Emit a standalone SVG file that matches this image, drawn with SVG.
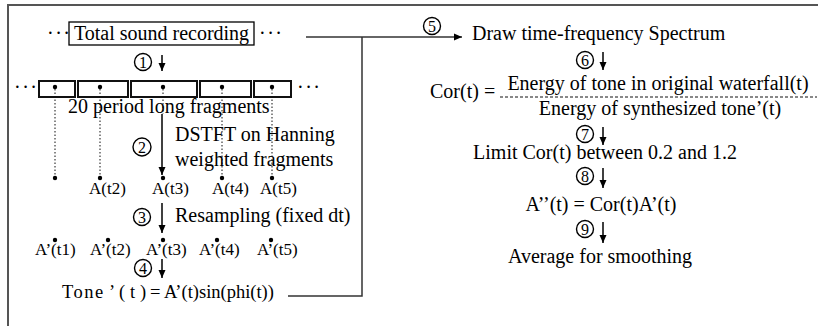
<svg xmlns="http://www.w3.org/2000/svg" width="818" height="326" viewBox="0 0 818 326">
<defs>
<marker id="ah" markerUnits="userSpaceOnUse" markerWidth="8" markerHeight="8" refX="8" refY="4" orient="auto">
<path d="M0,0.5 L8,4 L0,7.5 z" fill="#000"/>
</marker>
<style>
text{font-family:"Liberation Serif","Times New Roman",serif;fill:#000;}
.t20{font-size:20px;}
.t17{font-size:17px;}
.dots{font-size:20px;letter-spacing:1.5px;}
.num{font-size:16px;text-anchor:middle;}
.circ{fill:none;stroke:#000;stroke-width:1.4;}
.frag{fill:#fff;stroke:#111;stroke-width:2;}
.dot{fill:#000;}
.dotted{stroke:#111;stroke-width:1;stroke-dasharray:1.5,2;fill:none;}
.arr{stroke:#000;stroke-width:1.5;fill:none;marker-end:url(#ah);}
.conn{stroke:#333;stroke-width:1.5;fill:none;}
.frame{stroke:#555;stroke-width:2;fill:none;}
.mid{text-anchor:middle;}
</style>
</defs>
<rect width="818" height="326" fill="#fff"/>
<path class="frame" d="M8,326 V5 H818"/>

<g id="recording">
<text class="dots" x="47" y="40">···</text>
<rect x="69" y="22" width="185" height="23" fill="none" stroke="#000" stroke-width="1.3"/>
<text class="t20 mid" x="161.5" y="40">Total sound recording</text>
<text class="dots" x="259" y="40">···</text>
</g>

<g id="step1">
<circle class="circ" cx="143" cy="62" r="8.5"/>
<text class="num" x="143" y="67.5">1</text>
</g>

<g id="fragments">
<text class="dots" x="14" y="94">···</text>
<rect class="frag" x="39" y="81" width="36" height="16"/>
<rect class="frag" x="78" y="81" width="50" height="16"/>
<rect class="frag" x="131" y="81" width="66" height="16"/>
<rect class="frag" x="200" y="81" width="51" height="16"/>
<rect class="frag" x="254" y="81" width="37" height="16"/>
<text class="dots" x="297" y="94">···</text>
<circle class="dot" cx="55" cy="87" r="2.2"/>
<circle class="dot" cx="100" cy="87" r="2.2"/>
<circle class="dot" cx="163" cy="87" r="2.2"/>
<circle class="dot" cx="222" cy="87" r="2.2"/>
<circle class="dot" cx="272" cy="87" r="2.2"/>
<text class="t20" x="68" y="113">20 period long fragments</text>
</g>

<g id="step2">
<circle class="circ" cx="142" cy="147" r="9"/>
<text class="num" x="142" y="152.5">2</text>
<text class="t20" x="175" y="141">DSTFT on Hanning</text>
<text class="t20" x="175" y="166">weighted fragments</text>
</g>

<g id="amplitudes">
<circle class="dot" cx="55" cy="178" r="2.2"/>
<circle class="dot" cx="100" cy="178" r="2.2"/>
<circle class="dot" cx="163" cy="178" r="2.2"/>
<circle class="dot" cx="222" cy="178" r="2.2"/>
<circle class="dot" cx="272" cy="178" r="2.2"/>
<text class="t17" x="89" y="194">A(t2)</text>
<text class="t17" x="152" y="194">A(t3)</text>
<text class="t17" x="212" y="194">A(t4)</text>
<text class="t17" x="260" y="194">A(t5)</text>
</g>

<g id="step3">
<circle class="circ" cx="142" cy="217" r="8.5"/>
<text class="num" x="142" y="222.5">3</text>
<text class="t20" x="175" y="222">Resampling (fixed dt)</text>
</g>

<g id="resampled">
<circle class="dot" cx="55" cy="240" r="2.2"/>
<circle class="dot" cx="108" cy="240" r="2.2"/>
<circle class="dot" cx="163" cy="240" r="2.2"/>
<circle class="dot" cx="217" cy="240" r="2.2"/>
<circle class="dot" cx="271" cy="240" r="2.2"/>
<text class="t17" x="35" y="255">A’(t1)</text>
<text class="t17" x="90" y="255">A’(t2)</text>
<text class="t17" x="146" y="255">A’(t3)</text>
<text class="t17" x="199" y="255">A’(t4)</text>
<text class="t17" x="257" y="255">A’(t5)</text>
</g>

<g id="step4">
<circle class="circ" cx="143" cy="268" r="8.5"/>
<text class="num" x="143" y="273.5">4</text>
</g>

<g id="tone">
<text y="298" style="font-size:18.5px"><tspan x="62" letter-spacing="1.5">Tone</tspan><tspan x="109">’</tspan><tspan x="119">(</tspan><tspan x="130">t</tspan><tspan x="140">)</tspan><tspan x="150">=</tspan><tspan x="164">A’(t)sin(phi(t))</tspan></text>
</g>

<g id="step5">
<circle class="circ" cx="432" cy="26" r="8.5"/>
<text class="num" x="432" y="31.5">5</text>
</g>

<g id="spectrum">
<text class="t20" x="472" y="40">Draw time-frequency Spectrum</text>
</g>

<g id="step6">
<circle class="circ" cx="585" cy="60" r="8.5"/>
<text class="num" x="585" y="65.5">6</text>
</g>

<g id="cor">
<text class="t20" x="430" y="98">Cor(t) =</text>
<text class="t20 mid" x="658" y="90">Energy of tone in original waterfall(t)</text>
<line x1="500" y1="97" x2="817" y2="97" stroke="#111" stroke-width="1" stroke-dasharray="3,2"/>
<text class="t20 mid" x="660" y="115">Energy of synthesized tone’(t)</text>
</g>

<g id="step7">
<circle class="circ" cx="585" cy="134" r="8.5"/>
<text class="num" x="585" y="139.5">7</text>
</g>

<g id="limit">
<text class="t20 mid" x="605" y="159">Limit Cor(t) between 0.2 and 1.2</text>
</g>

<g id="step8">
<circle class="circ" cx="585" cy="176" r="8.5"/>
<text class="num" x="585" y="181.5">8</text>
</g>

<g id="aprime">
<text class="t20 mid" x="601" y="211">A’’(t) = Cor(t)A’(t)</text>
</g>

<g id="step9">
<circle class="circ" cx="585" cy="229" r="8.5"/>
<text class="num" x="585" y="234.5">9</text>
</g>

<g id="average">
<text class="t20 mid" x="600" y="263">Average for smoothing</text>
</g>

<g id="connectors">
<line class="arr" x1="162" y1="55" x2="162" y2="71"/>
<path class="dotted" d="M55,89 V176 M100,89 V176 M163,89 V114 M222,89 V176 M272,89 V176"/>
<line class="arr" x1="162" y1="114" x2="162" y2="175"/>
<line class="arr" x1="162" y1="203" x2="162" y2="233"/>
<line class="arr" x1="162" y1="259" x2="162" y2="278"/>
<path class="conn" d="M288,296 H362 V37"/>
<line class="conn" x1="306" y1="37" x2="462" y2="37" style="marker-end:url(#ah)"/>
<line class="arr" x1="603" y1="52" x2="603" y2="70"/>
<line class="arr" x1="603" y1="127" x2="603" y2="145"/>
<line class="arr" x1="603" y1="168" x2="603" y2="188"/>
<line class="arr" x1="603" y1="222" x2="603" y2="243"/>
</g>
</svg>
